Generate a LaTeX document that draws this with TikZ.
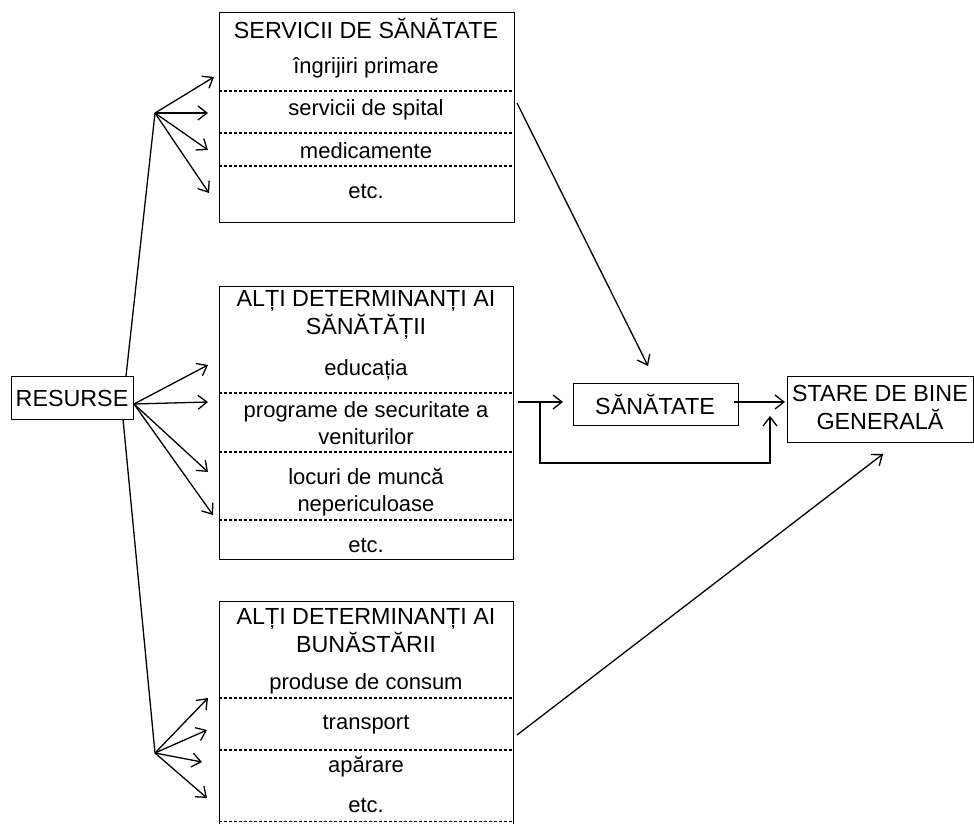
\documentclass[tikz,border=0pt]{standalone}
\usepackage{fontspec}
\setmainfont{Liberation Sans}
\usetikzlibrary{arrows.meta}
\tikzset{
  box/.style={draw, line width=1.4pt, inner sep=0pt, anchor=north west},
  txt/.style={font=\fontsize{22}{27}\selectfont, align=center, inner sep=0pt},
  capstxt/.style={font=\fontsize{23.3}{28}\selectfont, align=center, inner sep=0pt},
  sep/.style={line width=1.3pt, dash pattern=on 2.5pt off 2.5pt},
  conn/.style={line width=1.3pt},
  arr/.style={line width=1.3pt, -{Straight Barb[length=9pt,width=14pt,line width=1.3pt]}}
}
\begin{document}
\begin{tikzpicture}[x=1pt,y=-1pt]
\useasboundingbox (0,0) rectangle (974,824);
\clip (0,0) rectangle (974,824);
% boxes
\node[box, minimum width=295, minimum height=210] (svc) at (219,12) {};
\node[box, minimum width=294, minimum height=273] (det) at (219,286) {};
\node[box, minimum width=294, minimum height=240] (bun) at (219,601) {};
\node[box, minimum width=122, minimum height=43] (res) at (11,376) {};
\node[box, minimum width=165, minimum height=42] (san) at (573,383) {};
\node[box, minimum width=186, minimum height=66] (sta) at (787,376) {};
% box texts
\node[capstxt] (resT) at (72,398) {RESURSE};
\node[capstxt] (sanT) at (655,404) {SĂNĂTATE};
\node[capstxt] (staT) at (880,407) {STARE DE BINE\\GENERALĂ};
% top box
\node[capstxt] (s0) at (366,28) {SERVICII DE SĂNĂTATE};
\node[txt] (s1) at (366,68) {îngrijiri primare};
\node[txt] (s2) at (366,110) {servicii de spital};
\node[txt] (s3) at (366,151) {medicamente};
\node[txt] (s4) at (366,191) {etc.};
\draw[sep] (219,91) -- (514,91);
\draw[sep] (219,133) -- (514,133);
\draw[sep] (219,166) -- (514,166);
% middle box
\node[capstxt] (d0) at (366,315) {ALȚI DETERMINANȚI AI\\SĂNĂTĂȚII};
\node[txt] (d1) at (366,370) {educația};
\node[txt] (d2) at (366,423) {programe de securitate a\\veniturilor};
\node[txt] (d3) at (366,492) {locuri de muncă\\nepericuloase};
\node[txt] (d4) at (366,545) {etc.};
\draw[sep] (219,393) -- (513,393);
\draw[sep] (219,452) -- (513,452);
\draw[sep] (219,520) -- (513,520);
% bottom box
\node[capstxt] (b0) at (366,631) {ALȚI DETERMINANȚI AI\\BUNĂSTĂRII};
\node[txt] (b1) at (366,684) {produse de consum};
\node[txt] (b2) at (366,725) {transport};
\node[txt] (b3) at (366,767) {apărare};
\node[txt] (b4) at (366,805) {etc.};
\draw[sep] (219,698) -- (513,698);
\draw[sep] (219,750) -- (513,750);
\draw[sep] (219,821.5) -- (513,821.5);
% fan points
\coordinate (f1) at (155,113);
\coordinate (f2) at (134,404);
\coordinate (f3) at (155,753);
\coordinate (rt) at (126,376);
\coordinate (rb) at (123,419);
\draw[conn] (rt) -- (f1);
\draw[conn] (rb) -- (f3);
% fan arrows top
\coordinate (t1) at (214,77);
\coordinate (t2) at (208,113);
\coordinate (t3) at (208,150);
\coordinate (t4) at (209,193);
\foreach \p in {t1,t2,t3,t4} \draw[arr] (f1) -- (\p);
% fan arrows middle
\coordinate (m1) at (208,365);
\coordinate (m2) at (208,402);
\coordinate (m3) at (208,472);
\coordinate (m4) at (213,515);
\foreach \p in {m1,m2,m3,m4} \draw[arr] (f2) -- (\p);
% fan arrows bottom
\coordinate (u1) at (208,698);
\coordinate (u2) at (207,730);
\coordinate (u3) at (202,762);
\coordinate (u4) at (207,798);
\foreach \p in {u1,u2,u3,u4} \draw[arr] (f3) -- (\p);
% right side connectors
\coordinate (svcOut) at (517,103);
\coordinate (sanIn) at (648,366);
\draw[arr] (svcOut) -- (sanIn);
\coordinate (bunOut) at (517,735);
\coordinate (staIn) at (883,454);
\draw[arr] (bunOut) -- (staIn);
\coordinate (detOut) at (518,402);
\coordinate (sanL) at (563,402);
\coordinate (br) at (540,402);
\coordinate (staB) at (770,416);
\draw[arr] (detOut) -- (sanL);
\draw[arr] (br) -- (540,463) -- (770,463) -- (staB);
\coordinate (sanR) at (734,402);
\coordinate (staL) at (785,402);
\draw[arr] (sanR) -- (staL);
\end{tikzpicture}
\end{document}
